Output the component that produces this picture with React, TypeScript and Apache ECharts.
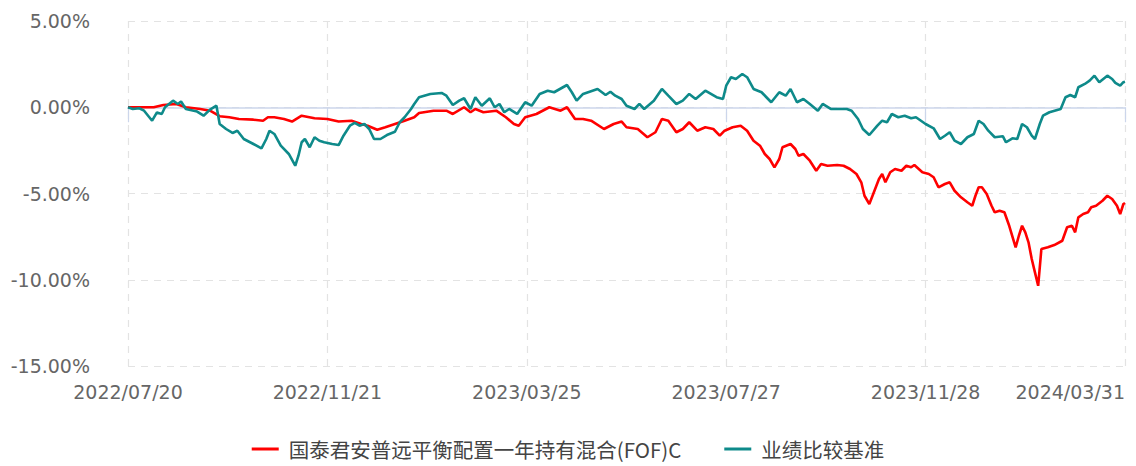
import React, { useEffect, useRef } from "react";
import * as echarts from "echarts";

const seriesNames = ["国泰君安普远平衡配置一年持有混合(FOF)C", "业绩比较基准"];

const fundDates = [
  "2022/07/20","2022/08/05","2022/08/11","2022/08/19","2022/08/25","2022/09/03","2022/09/09","2022/09/15","2022/09/21","2022/09/27",
  "2022/10/06","2022/10/12","2022/10/15","2022/10/19","2022/10/25","2022/10/30","2022/11/05","2022/11/13","2022/11/21","2022/11/28",
  "2022/12/06","2022/12/12","2022/12/16","2022/12/22","2022/12/27","2023/01/02","2023/01/08","2023/01/14","2023/01/17","2023/01/26",
  "2023/02/03","2023/02/07","2023/02/14","2023/02/18","2023/02/21","2023/02/26","2023/03/06","2023/03/12","2023/03/17","2023/03/20",
  "2023/03/24","2023/03/31","2023/04/08","2023/04/15","2023/04/19","2023/04/24","2023/04/29","2023/05/04","2023/05/12","2023/05/18",
  "2023/05/23","2023/05/26","2023/06/02","2023/06/08","2023/06/13","2023/06/17","2023/06/21","2023/06/26","2023/06/30","2023/07/04",
  "2023/07/09","2023/07/14","2023/07/19","2023/07/23","2023/07/26","2023/07/31","2023/08/05","2023/08/09","2023/08/13","2023/08/17",
  "2023/08/20","2023/08/23","2023/08/26","2023/08/29","2023/08/31","2023/09/05","2023/09/08","2023/09/10","2023/09/13","2023/09/17",
  "2023/09/21","2023/09/24","2023/09/28","2023/10/04","2023/10/08","2023/10/12","2023/10/16","2023/10/19","2023/10/21","2023/10/24",
  "2023/10/26","2023/10/30","2023/11/01","2023/11/03","2023/11/06","2023/11/09","2023/11/13","2023/11/16","2023/11/19","2023/11/21",
  "2023/11/26","2023/11/30","2023/12/03","2023/12/06","2023/12/10","2023/12/13","2023/12/16","2023/12/20","2023/12/24","2023/12/27",
  "2023/12/29","2023/12/31","2024/01/02","2024/01/05","2024/01/08","2024/01/10","2024/01/13","2024/01/16","2024/01/19","2024/01/23",
  "2024/01/25","2024/01/27","2024/01/29","2024/01/31","2024/02/02","2024/02/04","2024/02/06","2024/02/08","2024/02/12","2024/02/16",
  "2024/02/21","2024/02/24","2024/02/27","2024/02/29","2024/03/02","2024/03/05","2024/03/08","2024/03/10","2024/03/13","2024/03/17",
  "2024/03/20","2024/03/23","2024/03/26","2024/03/28","2024/03/30","2024/03/31",
];
const fundValues = [
  0, 0, 0.13, 0.19, 0, -0.1, -0.2, -0.52, -0.58, -0.68,
  -0.72, -0.78, -0.58, -0.58, -0.68, -0.83, -0.49, -0.64, -0.68, -0.83,
  -0.78, -0.97, -1.07, -1.3, -1.16, -0.97, -0.78, -0.58, -0.33, -0.2,
  -0.2, -0.39, 0, -0.29, -0.1, -0.29, -0.2, -0.58, -0.97, -1.07,
  -0.58, -0.39, 0, -0.2, 0, -0.68, -0.68, -0.78, -1.26, -0.97,
  -0.83, -1.16, -1.26, -1.74, -1.45, -0.68, -0.78, -1.45, -1.26, -0.87,
  -1.36, -1.16, -1.26, -1.65, -1.36, -1.16, -1.07, -1.36, -1.94, -2.23,
  -2.71, -3.0, -3.48, -3.0, -2.32, -2.13, -2.42, -2.81, -2.71, -3.1,
  -3.68, -3.29, -3.39, -3.35, -3.39, -3.58, -3.87, -4.35, -5.13, -5.61,
  -5.13, -4.16, -3.87, -4.35, -3.77, -3.58, -3.68, -3.39, -3.48, -3.35,
  -3.77, -3.87, -4.06, -4.64, -4.45, -4.35, -4.84, -5.22, -5.51, -5.71,
  -5.13, -4.64, -4.64, -5.03, -5.71, -6.09, -6.0, -6.09, -6.87, -8.12,
  -7.45, -6.87, -7.25, -7.83, -8.8, -9.57, -10.35, -8.22, -8.12, -7.99,
  -7.74, -6.96, -6.87, -7.25, -6.38, -6.19, -6.09, -5.8, -5.71, -5.42,
  -5.13, -5.32, -5.71, -6.19, -5.61, -5.55,
];

const benchDates = [
  "2022/07/20","2022/07/23","2022/07/27","2022/07/30","2022/08/04","2022/08/07","2022/08/10","2022/08/12","2022/08/17","2022/08/20",
  "2022/08/22","2022/08/25","2022/09/01","2022/09/05","2022/09/09","2022/09/13","2022/09/15","2022/09/19","2022/09/23","2022/09/26",
  "2022/09/30","2022/10/06","2022/10/11","2022/10/14","2022/10/16","2022/10/19","2022/10/23","2022/10/28","2022/11/01","2022/11/03",
  "2022/11/05","2022/11/07","2022/11/10","2022/11/13","2022/11/16","2022/11/19","2022/11/24","2022/11/28","2022/12/01","2022/12/05",
  "2022/12/08","2022/12/11","2022/12/14","2022/12/17","2022/12/20","2022/12/24","2022/12/28","2023/01/02","2023/01/05","2023/01/08",
  "2023/01/12","2023/01/14","2023/01/17","2023/01/24","2023/01/31","2023/02/03","2023/02/07","2023/02/11","2023/02/14","2023/02/18",
  "2023/02/21","2023/02/25","2023/03/02","2023/03/05","2023/03/08","2023/03/11","2023/03/14","2023/03/19","2023/03/24","2023/03/28",
  "2023/04/02","2023/04/07","2023/04/11","2023/04/19","2023/04/22","2023/04/25","2023/04/29","2023/05/08","2023/05/13","2023/05/16",
  "2023/05/19","2023/05/23","2023/05/26","2023/05/31","2023/06/03","2023/06/06","2023/06/12","2023/06/17","2023/06/21","2023/06/26",
  "2023/06/30","2023/07/04","2023/07/08","2023/07/14","2023/07/21","2023/07/25","2023/07/27","2023/07/30","2023/08/02","2023/08/06",
  "2023/08/09","2023/08/13","2023/08/18","2023/08/21","2023/08/24","2023/08/29","2023/09/02","2023/09/05","2023/09/09","2023/09/13",
  "2023/09/17","2023/09/22","2023/09/25","2023/09/30","2023/10/10","2023/10/13","2023/10/17","2023/10/20","2023/10/24","2023/10/29",
  "2023/11/01","2023/11/04","2023/11/07","2023/11/11","2023/11/15","2023/11/19","2023/11/22","2023/11/28","2023/12/03","2023/12/07",
  "2023/12/10","2023/12/13","2023/12/16","2023/12/20","2023/12/24","2023/12/28","2023/12/31","2024/01/03","2024/01/06","2024/01/10",
  "2024/01/15","2024/01/17","2024/01/21","2024/01/24","2024/01/27","2024/01/30","2024/02/02","2024/02/04","2024/02/07","2024/02/09",
  "2024/02/13","2024/02/20","2024/02/23","2024/02/26","2024/02/29","2024/03/02","2024/03/06","2024/03/09","2024/03/12","2024/03/15",
  "2024/03/20","2024/03/23","2024/03/25","2024/03/28","2024/03/30","2024/03/31",
];
const benchValues = [
  0, -0.1, -0.06, -0.2, -0.78, -0.3, -0.39, 0, 0.38, 0.19,
  0.33, -0.1, -0.25, -0.49, -0.14, 0.09, -0.97, -1.26, -1.49, -1.36,
  -1.84, -2.13, -2.38, -1.84, -1.36, -1.55, -2.23, -2.71, -3.39, -2.81,
  -2.03, -1.84, -2.32, -1.74, -1.94, -2.03, -2.13, -2.19, -1.65, -1.07,
  -0.91, -1.07, -0.97, -1.26, -1.84, -1.84, -1.61, -1.42, -0.87, -0.58,
  -0.1, 0.19, 0.58, 0.77, 0.83, 0.67, 0.13, 0.38, 0.52, -0.1,
  0.58, 0.09, 0.52, 0, 0.19, -0.29, -0.1, -0.39, 0.29, 0.09,
  0.77, 0.96, 0.87, 1.29, 0.87, 0.38, 0.77, 1.06, 0.71, 0.9,
  0.67, 0.48, 0.09, -0.1, 0.19, -0.1, 0.38, 1.06, 0.67, 0.19,
  0.38, 0.77, 0.48, 0.96, 0.58, 0.48, 1.25, 1.74, 1.64, 1.93,
  1.74, 1.06, 0.87, 0.58, 0.29, 0.87, 0.67, 1.06, 0.29, 0.48,
  0.19, -0.2, 0.19, -0.1, -0.1, -0.2, -0.68, -1.26, -1.61, -1.07,
  -0.78, -0.87, -0.39, -0.58, -0.49, -0.64, -0.58, -0.97, -1.22, -1.84,
  -1.65, -1.45, -1.94, -2.13, -1.74, -1.55, -0.78, -0.97, -1.36, -1.74,
  -1.68, -2.03, -1.8, -1.84, -0.97, -1.16, -1.65, -1.84, -0.97, -0.49,
  -0.29, -0.1, 0.58, 0.71, 0.58, 1.16, 1.35, 1.54, 1.83, 1.45,
  1.83, 1.64, 1.41, 1.25, 1.45, 1.48,
];

const startDate = "2022/07/20";
const endDate = "2024/03/31";
const dayStepBetweenLabels = 124;
const yMin = -15;
const yMax = 5;
const yStep = 5;

const DAY = 86400000;
const toUTC = (s: string) => {
  const [y, m, d] = s.split("/").map(Number);
  return Date.UTC(y, m - 1, d);
};
const START = toUTC(startDate);
const dayIndex = (s: string) => Math.round((toUTC(s) - START) / DAY);
const pad = (n: number) => (n < 10 ? "0" + n : "" + n);
const fmtDay = (i: number) => {
  const dt = new Date(START + Math.round(i) * DAY);
  return `${dt.getUTCFullYear()}/${pad(dt.getUTCMonth() + 1)}/${pad(dt.getUTCDate())}`;
};

export default function App() {
  const ref = useRef<HTMLDivElement>(null);
  useEffect(() => {
    if (!ref.current) return;
    const chart = echarts.init(ref.current, undefined, { renderer: "svg" });
    const axisFont = "DejaVu Sans, sans-serif";
    chart.setOption({
      animation: false,
      backgroundColor: "#ffffff",
      grid: { left: 128, right: 11, top: 21, bottom: 100, containLabel: false },
      legend: {
        bottom: 6,
        left: "center",
        padding: [0, 5, 0, 5],
        icon: "rect",
        itemWidth: 27,
        itemHeight: 3,
        itemGap: 43,
        textStyle: {
          fontSize: 20.5,
          lineHeight: 22,
          color: "#444",
          fontFamily: "Noto Sans CJK SC, sans-serif",
          padding: [0, 0, 0, 5],
        },
        data: seriesNames,
      },
      xAxis: {
        type: "value",
        min: 0,
        max: dayIndex(endDate),
        interval: dayStepBetweenLabels,
        axisLine: { show: true, lineStyle: { color: "#ccd6eb", width: 1.5 } },
        axisTick: { show: true, length: 15, lineStyle: { color: "#ccd6eb", width: 1.2 } },
        axisLabel: {
          color: "#666",
          fontSize: 19,
          fontFamily: axisFont,
          margin: 16,
          alignMaxLabel: "right",
          formatter: (v: number) => fmtDay(v),
        },
        splitLine: { show: true, lineStyle: { color: "#e3e3e3", type: [7, 6], width: 1.2 } },
      },
      yAxis: {
        type: "value",
        min: yMin,
        max: yMax,
        interval: yStep,
        axisLine: { show: false },
        axisTick: { show: false },
        axisLabel: {
          color: "#666",
          fontSize: 19,
          fontFamily: axisFont,
          margin: 38,
          formatter: (v: number) => v.toFixed(2) + "%",
        },
        splitLine: { show: true, lineStyle: { color: "#e3e3e3", type: [7, 6], width: 1.2 } },
      },
      series: [
        {
          name: seriesNames[0],
          type: "line",
          symbol: "none",
          showSymbol: false,
          color: "#ff0000",
          lineStyle: { color: "#ff0000", width: 2.6 },
          data: fundDates.map((d, i) => [dayIndex(d), fundValues[i]]),
        },
        {
          name: seriesNames[1],
          type: "line",
          symbol: "none",
          showSymbol: false,
          color: "#0e8a8a",
          lineStyle: { color: "#0e8a8a", width: 2.6 },
          data: benchDates.map((d, i) => [dayIndex(d), benchValues[i]]),
        },
      ],
    });
    return () => chart.dispose();
  }, []);
  return (
    <div
      ref={ref}
      style={{ position: "fixed", left: 0, top: 0, width: 1136, height: 466, background: "#fff" }}
    />
  );
}
